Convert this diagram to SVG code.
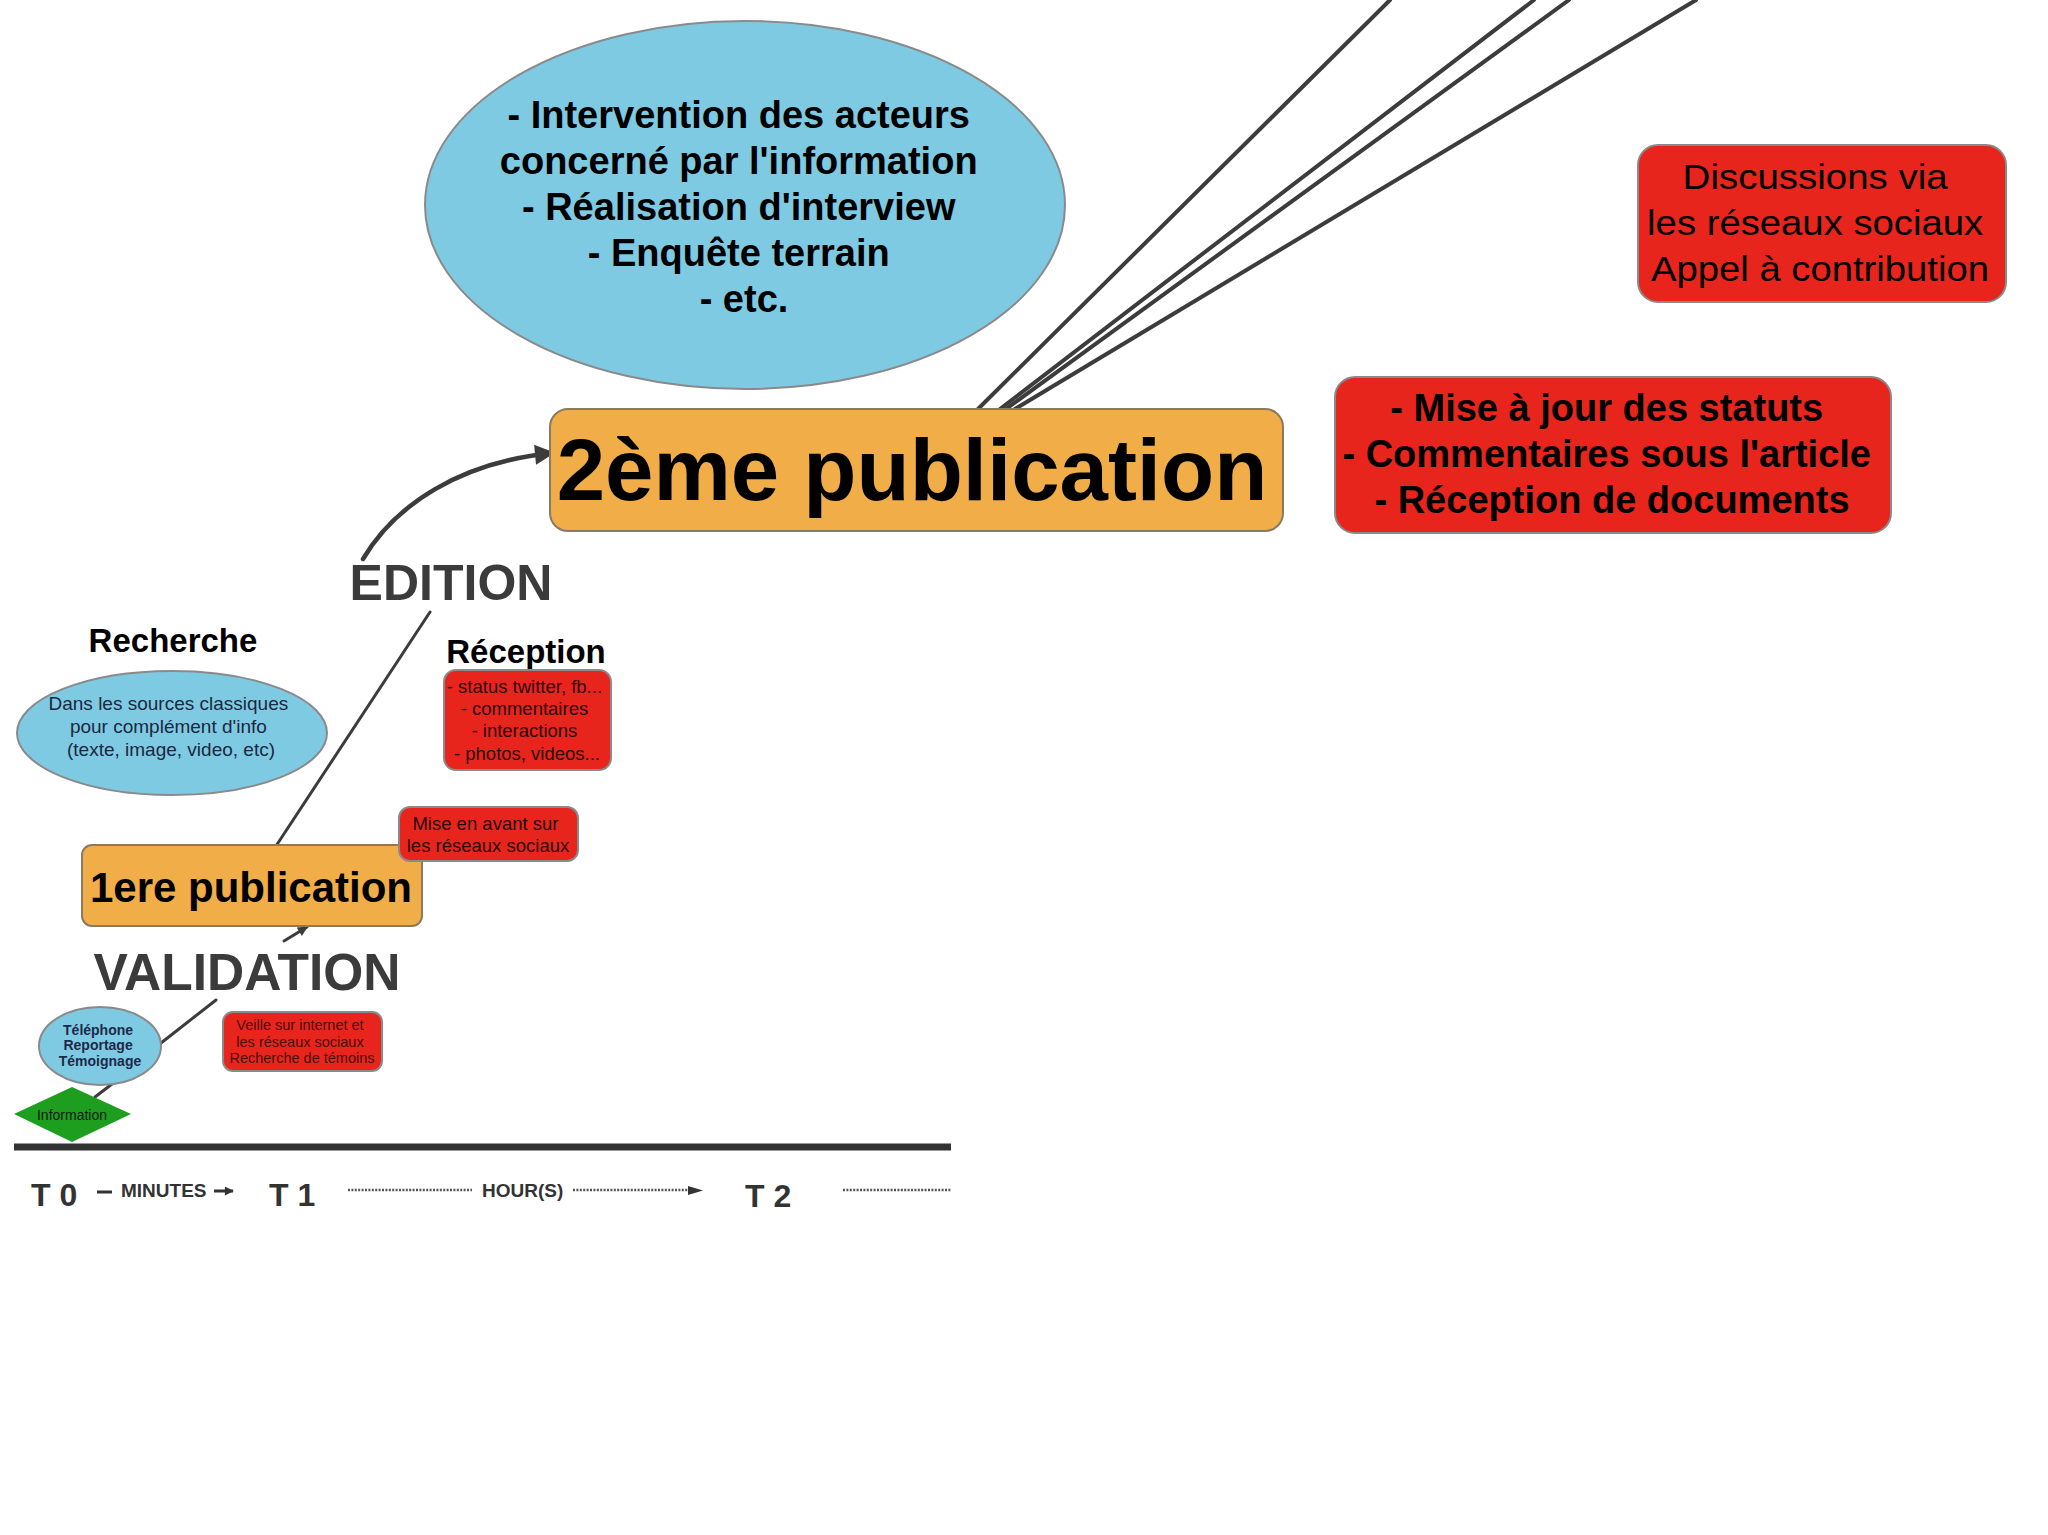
<svg xmlns="http://www.w3.org/2000/svg" width="2048" height="1535" viewBox="0 0 2048 1535">
<defs>
<style>
.t{font-family:"Liberation Sans",Arial,sans-serif;text-anchor:middle}
.b{font-weight:bold}
.blue{fill:#7FCAE3;stroke:#8a8a8a;stroke-width:2}
.red{fill:#E8251C;stroke:#8a8a8a;stroke-width:2}
.orange{fill:#F0AD48;stroke:#8a7a60;stroke-width:2}
.conn{fill:none;stroke:#3c3c3c;stroke-linecap:round}
.dot{fill:none;stroke:#555;stroke-width:2.5;stroke-dasharray:2 1.4}
.tl{font-family:"Liberation Sans",Arial,sans-serif;font-weight:bold;fill:#333}
</style>
<marker id="ah" viewBox="0 0 10 10" refX="9" refY="5" markerWidth="26" markerHeight="20" markerUnits="userSpaceOnUse" orient="auto">
<path d="M0,0 L10,5 L0,10 z" fill="#3c3c3c"/>
</marker>
<marker id="ahs" viewBox="0 0 10 10" refX="9" refY="5" markerWidth="12" markerHeight="10" markerUnits="userSpaceOnUse" orient="auto">
<path d="M0,0 L10,5 L0,10 z" fill="#3c3c3c"/>
</marker>
<marker id="aht" viewBox="0 0 10 10" refX="9" refY="5" markerWidth="14" markerHeight="9" markerUnits="userSpaceOnUse" orient="auto">
<path d="M0,0 L10,5 L0,10 z" fill="#333"/>
</marker>
</defs>
<rect width="2048" height="1535" fill="#ffffff"/>

<g id="connectors">
<line class="conn" x1="978" y1="409" x2="1390" y2="0" stroke-width="4"/>
<line class="conn" x1="1000" y1="409" x2="1534" y2="0" stroke-width="4"/>
<line class="conn" x1="1006" y1="409" x2="1569" y2="0" stroke-width="4"/>
<line class="conn" x1="1015" y1="409" x2="1696" y2="0" stroke-width="4"/>
<path class="conn" d="M363,559 C395,505 460,462 553,453" stroke-width="4.5" marker-end="url(#ah)"/>
<line class="conn" x1="430" y1="612" x2="276" y2="846" stroke-width="3"/>
<line class="conn" x1="284" y1="941" x2="307" y2="927" stroke-width="3" marker-end="url(#ahs)"/>
<line class="conn" x1="216" y1="1000" x2="161" y2="1043" stroke-width="3"/>
<line class="conn" x1="95" y1="1097" x2="112" y2="1084" stroke-width="3"/>
</g>

<g id="node-intervention">
<ellipse class="blue" cx="745" cy="205" rx="320" ry="184"/>
<text class="t b" font-size="38" fill="#000">
<tspan x="744" y="128">- Intervention des acteurs</tspan>
<tspan x="744" y="174">concerné par l'information</tspan>
<tspan x="744" y="220">- Réalisation d'interview</tspan>
<tspan x="744" y="266">- Enquête terrain</tspan>
<tspan x="744" y="312">- etc.</tspan>
</text>
</g>

<g id="node-discussions">
<rect class="red" x="1638" y="145" width="368" height="157" rx="20"/>
<text class="t" font-size="35" fill="#000">
<tspan x="1820" y="189" textLength="265" lengthAdjust="spacingAndGlyphs">Discussions via</tspan>
<tspan x="1820" y="235" textLength="336" lengthAdjust="spacingAndGlyphs">les réseaux sociaux</tspan>
<tspan x="1820" y="281" textLength="338" lengthAdjust="spacingAndGlyphs">Appel à contribution</tspan>
</text>
</g>

<g id="node-2eme-publication">
<rect class="orange" x="550" y="409" width="733" height="122" rx="18"/>
<text class="t b" x="912" y="500" font-size="87" fill="#000">2ème publication</text>
</g>

<g id="node-mise-a-jour">
<rect class="red" x="1335" y="377" width="556" height="156" rx="20"/>
<text class="t b" font-size="38" fill="#000">
<tspan x="1612" y="421">- Mise à jour des statuts</tspan>
<tspan x="1612" y="467">- Commentaires sous l'article</tspan>
<tspan x="1612" y="513">- Réception de documents</tspan>
</text>
</g>

<g id="node-edition">
<text class="t b" x="451" y="600" font-size="50" fill="#3b3b3b">EDITION</text>
</g>

<g id="node-recherche">
<text class="t b" x="173" y="652" font-size="33" fill="#000">Recherche</text>
<ellipse class="blue" cx="172" cy="733" rx="155" ry="62"/>
<text class="t" font-size="19" fill="#1a2840">
<tspan x="171" y="710">Dans les sources classiques</tspan>
<tspan x="171" y="733">pour complément d'info</tspan>
<tspan x="171" y="756">(texte, image, video, etc)</tspan>
</text>
</g>

<g id="node-reception">
<text class="t b" x="526" y="663" font-size="33" fill="#000">Réception</text>
<rect class="red" x="444" y="670" width="167" height="100" rx="12"/>
<text class="t" font-size="18.5" fill="#2a0808">
<tspan x="527" y="693">- status twitter, fb...</tspan>
<tspan x="527" y="715">- commentaires</tspan>
<tspan x="527" y="737">- interactions</tspan>
<tspan x="527" y="760">- photos, videos...</tspan>
</text>
</g>

<g id="node-1ere-publication">
<rect class="orange" x="82" y="845" width="340" height="81" rx="10"/>
<text class="t b" x="251" y="902" font-size="42" fill="#000">1ere publication</text>
</g>

<g id="node-mise-en-avant">
<rect class="red" x="399" y="807" width="179" height="54" rx="11"/>
<text class="t" font-size="18.5" fill="#2a0808">
<tspan x="488" y="830">Mise en avant sur</tspan>
<tspan x="488" y="852">les réseaux sociaux</tspan>
</text>
</g>

<g id="node-validation">
<text class="t b" x="247" y="990" font-size="51.5" fill="#3b3b3b">VALIDATION</text>
</g>

<g id="node-telephone">
<ellipse class="blue" cx="100" cy="1046" rx="61" ry="39"/>
<text class="t b" font-size="14" fill="#1b2a4a">
<tspan x="100" y="1035">Téléphone</tspan>
<tspan x="100" y="1050">Reportage</tspan>
<tspan x="100" y="1066">Témoignage</tspan>
</text>
</g>

<g id="node-veille">
<rect class="red" x="223" y="1012" width="159" height="59" rx="10"/>
<text class="t" font-size="14.5" fill="#4a0c0c">
<tspan x="302" y="1030">Veille sur internet et</tspan>
<tspan x="302" y="1047">les réseaux sociaux</tspan>
<tspan x="302" y="1063">Recherche de témoins</tspan>
</text>
</g>

<g id="node-information">
<polygon points="14,1114 72,1087 131,1114 72,1142" fill="#1E9E1E"/>
<text class="t" x="72" y="1120" font-size="14" fill="#1a1a1a">Information</text>
</g>

<g id="timeline">
<line x1="14" y1="1147" x2="951" y2="1147" stroke="#333" stroke-width="7"/>
<text class="tl" x="31" y="1206" font-size="32">T 0</text>
<line x1="97" y1="1192" x2="112" y2="1192" stroke="#333" stroke-width="3"/>
<text class="tl" x="121" y="1197" font-size="19">MINUTES</text>
<line x1="214" y1="1191" x2="233" y2="1191" stroke="#333" stroke-width="3" marker-end="url(#aht)"/>
<text class="tl" x="269" y="1206" font-size="32">T 1</text>
<line class="dot" x1="348" y1="1190" x2="472" y2="1190"/>
<text class="tl" x="482" y="1197" font-size="19">HOUR(S)</text>
<line class="dot" x1="573" y1="1190" x2="692" y2="1190"/>
<path d="M688,1186 L703,1190.5 L688,1195 z" fill="#333"/>
<text class="tl" x="745" y="1207" font-size="32">T 2</text>
<line class="dot" x1="843" y1="1190" x2="951" y2="1190"/>
</g>
</svg>
